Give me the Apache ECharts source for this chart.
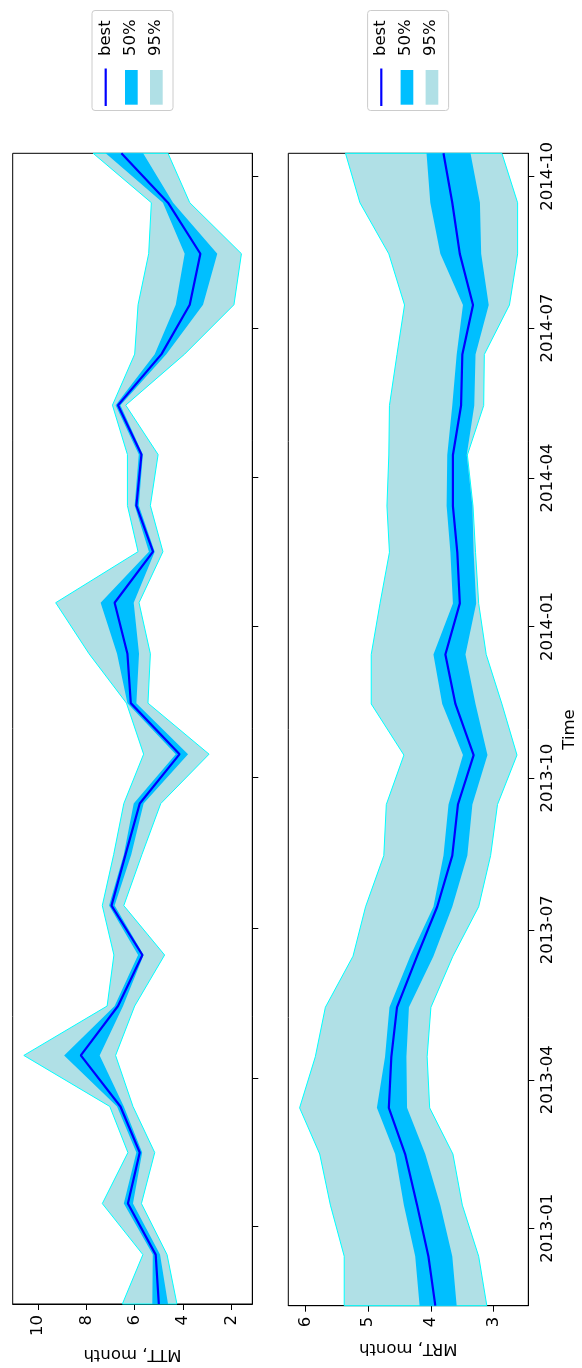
<!DOCTYPE html>
<html>
<head>
<meta charset="utf-8">
<script src="https://cdn.jsdelivr.net/npm/echarts@6/dist/echarts.min.js"></script>
<style>
html,body{margin:0;padding:0;background:#fff;}
#c{width:582px;height:1368px;}
</style>
</head>
<body>
<div id="c"></div>
<script>
// ---- data ----
const dates = ['2012-11-15','2012-12-15','2013-01-15','2013-02-15','2013-03-15','2013-04-15','2013-05-15','2013-06-15','2013-07-15','2013-08-15','2013-09-15','2013-10-15','2013-11-15','2013-12-15','2014-01-15','2014-02-15','2014-03-15','2014-04-15','2014-05-15','2014-06-15','2014-07-15','2014-08-15','2014-09-15','2014-10-15'];

const mttBest = [5.00,5.13,6.28,5.79,6.59,8.23,6.69,5.68,6.96,6.38,5.79,4.14,6.16,6.30,6.83,5.24,5.93,5.72,6.69,4.89,3.72,3.28,4.62,6.55];
const mtt50Lo = [4.62,4.95,6.07,5.69,6.45,7.45,6.48,5.63,6.83,6.14,5.63,3.79,5.93,5.82,6.04,5.17,5.83,5.66,6.59,4.69,3.17,2.58,4.41,5.65];
const mtt50Hi = [5.27,5.25,6.45,5.93,6.73,8.92,6.83,5.86,7.06,6.45,6.04,4.30,6.30,6.73,7.41,5.41,6.00,5.83,6.79,5.17,4.30,3.93,4.83,7.20];
const mtt95Lo = [4.25,4.66,5.72,5.17,6.07,6.79,6.00,4.76,6.45,5.70,4.92,2.92,5.45,5.35,5.82,4.83,5.35,5.03,6.37,3.93,1.89,1.58,3.72,4.62];
const mtt95Hi = [6.51,5.66,7.34,6.28,7.03,10.59,7.14,6.86,7.34,6.87,6.45,5.63,6.34,7.89,9.27,5.86,6.30,6.30,6.92,6.00,5.86,5.42,5.31,7.72];

const mrtBest = [3.93,4.04,4.22,4.41,4.67,4.63,4.54,4.22,3.90,3.66,3.57,3.32,3.61,3.77,3.54,3.58,3.65,3.65,3.52,3.50,3.33,3.54,3.66,3.80];
const mrt50Lo = [3.59,3.66,3.85,4.09,4.38,4.39,4.35,3.96,3.66,3.42,3.34,3.10,3.29,3.45,3.28,3.32,3.34,3.43,3.31,3.29,3.08,3.20,3.22,3.37];
const mrt50Hi = [4.18,4.25,4.43,4.57,4.86,4.73,4.66,4.33,3.96,3.80,3.72,3.49,3.82,3.96,3.65,3.69,3.75,3.74,3.66,3.59,3.49,3.85,4.01,4.07];
const mrt95Lo = [3.11,3.24,3.50,3.65,4.02,4.06,4.00,3.65,3.24,3.05,2.94,2.63,2.87,3.12,3.24,3.29,3.33,3.42,3.16,3.15,2.75,2.62,2.62,2.87];
const mrt95Hi = [5.38,5.38,5.60,5.77,6.09,5.84,5.68,5.24,5.04,4.75,4.71,4.43,4.95,4.95,4.81,4.66,4.70,4.67,4.66,4.54,4.42,4.67,5.13,5.36];

const timeTicks = ['2013-01-01','2013-04-01','2013-07-01','2013-10-01','2014-01-01','2014-04-01','2014-07-01','2014-10-01'];
const mttTicks = [2,4,6,8,10];
const mrtTicks = [3,4,5,6];
const mttRange = [1.13, 11.05];
const mrtRange = [2.45, 6.27];
const legendLabels = ['best','50%','95%'];
const axisNames = ['MTT, month','MRT, month','Time'];

// ---- helpers ----
function ts(s){const p=s.split('-').map(Number);return new Date(p[0],p[1]-1,p[2]).getTime();}
const T = dates.map(ts);
const tickT = timeTicks.map(ts);
function pairs(vals){return vals.map((v,i)=>[v,T[i]]);}
function fmtDate(v){const d=new Date(v);return d.getFullYear()+'-'+String(d.getMonth()+1).padStart(2,'0');}

const FONT = 'DejaVu Sans';
const FS = 16.5;
const C_BEST='#0000ff', C_50='#00bfff', C_95='#b0e0e6', C_EDGE='#00ffff';

// band drawn as one polygon: upper bound forward, lower bound backward (coords via the axes)
function bandSeries(idx, lo, hi, fill, edge, z){
  return {
    type:'custom', xAxisIndex:idx, yAxisIndex:idx, silent:true, z:z,
    data: T.map((t,i)=>[lo[i], hi[i], t]),
    encode:{x:[0,1], y:2},
    renderItem: function(params, api){
      if (params.dataIndex !== 0) return null;
      const n = params.dataInsideLength;
      const pts = [];
      for (let j=0;j<n;j++) pts.push(api.coord([api.value(1,j), api.value(2,j)]));
      for (let j=n-1;j>=0;j--) pts.push(api.coord([api.value(0,j), api.value(2,j)]));
      return {type:'polygon', shape:{points:pts},
        style: edge ? {fill:fill, stroke:edge, lineWidth:1} : {fill:fill, stroke:null}};
    }
  };
}
function bestSeries(idx, vals){
  return {type:'line', xAxisIndex:idx, yAxisIndex:idx, data:pairs(vals), showSymbol:false, symbol:'none',
    lineStyle:{color:C_BEST,width:2.2}, z:5, silent:true};
}

const grids = [
  {left:12.7, top:153.3, width:239.6, height:1152.4},
  {left:288.3, top:153.3, width:240, height:1152.4}
];

function xAxisDef(idx, range, ticks, name, gap){
  return {type:'value', gridIndex:idx, inverse:true, min:range[0], max:range[1],
    position:'bottom',
    splitLine:{show:false},
    axisLine:{show:true, onZero:false, lineStyle:{color:'#000',width:1}},
    axisTick:{show:true, length:6, lineStyle:{color:'#000',width:1}, customValues:ticks},
    axisLabel:{show:true, rotate:90, margin:11, color:'#000', fontFamily:FONT, fontSize:FS, customValues:ticks},
    name:name, nameLocation:'middle', nameRotate:180, nameGap:gap,
    nameTextStyle:{color:'#000', fontFamily:FONT, fontSize:FS}
  };
}
function yAxisDef(idx, showLabels){
  return {type:'value', gridIndex:idx, position:'right', min:T[0], max:T[T.length-1], scale:true,
    splitLine:{show:false},
    axisLine:{show:true, onZero:false, lineStyle:{color:'#000',width:1}},
    axisTick:{show:true, length:6, lineStyle:{color:'#000',width:1}, customValues:tickT},
    axisLabel:{show:showLabels, rotate:90, margin:11, color:'#000', fontFamily:FONT, fontSize:FS,
      customValues:tickT, formatter:fmtDate, hideOverlap:false},
    name: showLabels ? axisNames[2] : '', nameLocation:'middle', nameRotate:90, nameGap:33,
    nameTextStyle:{color:'#000', fontFamily:FONT, fontSize:FS}
  };
}

function legendGraphics(dx){
  const els = [];
  els.push({type:'rect', x:92+dx, y:10.5, shape:{width:81, height:100, r:3},
    style:{fill:'#fff', stroke:'#cccccc', lineWidth:1}, z:100});
  els.push({type:'line', shape:{x1:105.7+dx, y1:68.5, x2:105.7+dx, y2:106}, style:{stroke:C_BEST, lineWidth:2.2}, z:101});
  els.push({type:'rect', x:125+dx, y:70, shape:{width:12.7, height:34.7}, style:{fill:C_50}, z:101});
  els.push({type:'rect', x:150+dx, y:70, shape:{width:12.7, height:34.7}, style:{fill:C_95}, z:101});
  const tx=[105.5,130.5,155.5];
  legendLabels.forEach((t,i)=>{
    els.push({type:'text', x:tx[i]+dx, y:56, rotation:Math.PI/2,
      style:{text:t, fill:'#000', font:FS+'px "'+FONT+'"', align:'left', verticalAlign:'middle'}, z:102});
  });
  return els;
}

const chart = echarts.init(document.getElementById('c'), null, {renderer:'canvas'});
chart.setOption({
  animation:false,
  backgroundColor:'#fff',
  grid: grids.map(g=>Object.assign({show:true, borderColor:'#000', borderWidth:1, backgroundColor:'transparent'}, g)),
  xAxis:[xAxisDef(0, mttRange, mttTicks, axisNames[0], 42), xAxisDef(1, mrtRange, mrtTicks, axisNames[1], 34)],
  yAxis:[yAxisDef(0,false), yAxisDef(1,true)],
  series:[
    bandSeries(0, mtt95Lo, mtt95Hi, C_95, C_EDGE, 2),
    bandSeries(0, mtt50Lo, mtt50Hi, C_50, null, 3),
    bestSeries(0, mttBest),
    bandSeries(1, mrt95Lo, mrt95Hi, C_95, C_EDGE, 2),
    bandSeries(1, mrt50Lo, mrt50Hi, C_50, null, 3),
    bestSeries(1, mrtBest)
  ],
  graphic: [...legendGraphics(0), ...legendGraphics(275.6)]
});
</script>
</body>
</html>
